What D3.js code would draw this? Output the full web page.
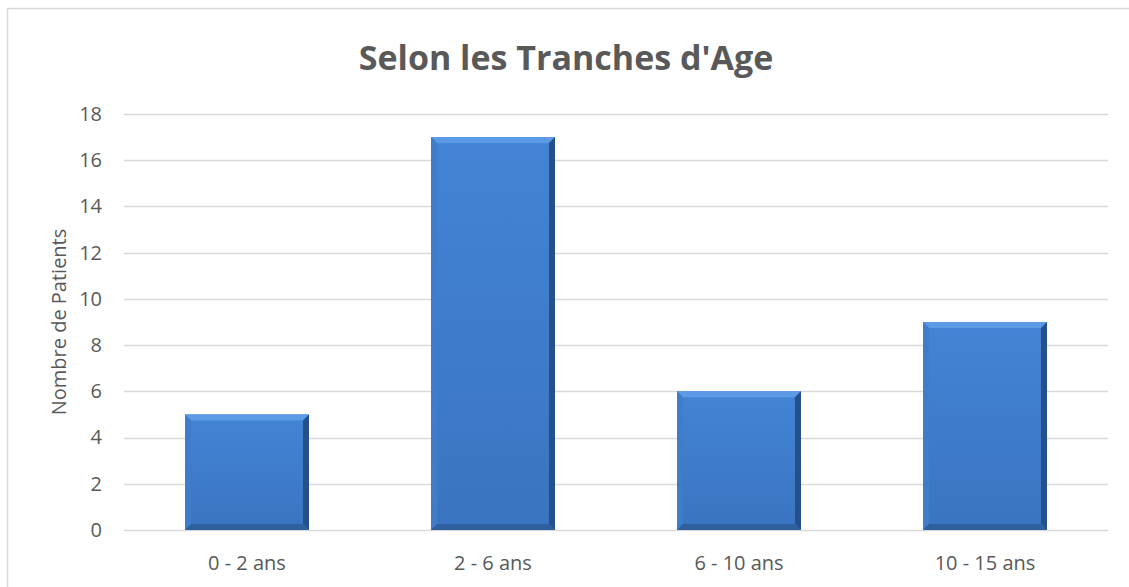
<!DOCTYPE html>
<html>
<head>
<meta charset="utf-8">
<script src="https://cdn.jsdelivr.net/npm/d3@7"></script>
<style>
  body { margin: 0; background: #fff; }
  text { font-family: "Open Sans", "Liberation Sans", sans-serif; fill: #595959; }
</style>
</head>
<body>
<div id="chart"></div>
<script>
// Chart values
var categories = ["0 - 2 ans", "2 - 6 ans", "6 - 10 ans", "10 - 15 ans"];
var patients = [5, 17, 6, 9];
var yTicks = [0, 2, 4, 6, 8, 10, 12, 14, 16, 18];
var chartTitle = "Selon les Tranches d'Age";
var yTitle = "Nombre de Patients";

var svgWidth = 1129, svgHeight = 587;
var chartMargin = { top: 114, right: 21, bottom: 57, left: 124 };
var chartWidth = svgWidth - chartMargin.left - chartMargin.right;
var chartHeight = svgHeight - chartMargin.top - chartMargin.bottom;

var svg = d3.select("#chart")
  .append("svg")
  .attr("width", svgWidth)
  .attr("height", svgHeight);

// outer frame of the chart (runs off right and bottom)
svg.append("rect")
  .attr("x", 7.5).attr("y", 8.5)
  .attr("width", svgWidth + 20).attr("height", svgHeight + 20)
  .attr("fill", "none")
  .attr("stroke", "#d9d9d9")
  .attr("stroke-width", 1.5);

var chartGroup = svg.append("g")
  .attr("transform", `translate(${chartMargin.left}, ${chartMargin.top})`);

var xBandScale = d3.scaleBand()
  .domain(categories)
  .range([0, chartWidth])
  .paddingInner(0.496)
  .paddingOuter(0.248);

var yLinearScale = d3.scaleLinear()
  .domain([0, 18])
  .range([chartHeight, 0]);

// gridlines
chartGroup.selectAll(".grid")
  .data(yTicks)
  .enter()
  .append("line")
  .attr("x1", 0)
  .attr("x2", chartWidth)
  .attr("y1", d => Math.round(yLinearScale(d)) + 0.5)
  .attr("y2", d => Math.round(yLinearScale(d)) + 0.5)
  .attr("stroke", "#d9d9d9")
  .attr("stroke-width", 1.5);

// y axis labels
var leftAxis = d3.axisLeft(yLinearScale).tickValues(yTicks).tickSize(0).tickPadding(22);
var yAxisG = chartGroup.append("g").call(leftAxis);
yAxisG.select(".domain").remove();
yAxisG.selectAll("text")
  .style("font-size", "20px")
  .style("fill", "#595959")
  .style("font-family", "'Open Sans', sans-serif");

// x axis labels
var bottomAxis = d3.axisBottom(xBandScale).tickSize(0).tickPadding(26);
var xAxisG = chartGroup.append("g")
  .attr("transform", `translate(0, ${chartHeight})`)
  .call(bottomAxis);
xAxisG.select(".domain").remove();
xAxisG.selectAll("text")
  .style("font-size", "20px")
  .style("fill", "#595959")
  .style("font-family", "'Open Sans', sans-serif");

// gradient for the bar face
var defs = svg.append("defs");
var grad = defs.append("linearGradient")
  .attr("id", "barFace")
  .attr("x1", 0).attr("y1", 0).attr("x2", 0).attr("y2", 1);
grad.append("stop").attr("offset", "0%").attr("stop-color", "#4384d6");
grad.append("stop").attr("offset", "100%").attr("stop-color", "#3a74c0");

var bev = 6;

var bars = chartGroup.selectAll(".bar")
  .data(patients)
  .enter()
  .append("g")
  .attr("class", "bar");

function corners(d, i) {
  var x0 = xBandScale(categories[i]);
  var x1 = x0 + xBandScale.bandwidth();
  var y0 = yLinearScale(d);
  var y1 = yLinearScale(0);
  return { x0: x0, x1: x1, y0: y0, y1: y1 };
}

// base face
bars.append("rect")
  .attr("x", (d, i) => corners(d, i).x0)
  .attr("y", (d, i) => corners(d, i).y0)
  .attr("width", xBandScale.bandwidth())
  .attr("height", (d, i) => corners(d, i).y1 - corners(d, i).y0)
  .attr("fill", "url(#barFace)");

// bevel: top (light)
bars.append("polygon")
  .attr("points", function(d, i) {
    var c = corners(d, i);
    return [[c.x0, c.y0], [c.x1, c.y0], [c.x1 - bev, c.y0 + bev], [c.x0 + bev, c.y0 + bev]].join(" ");
  })
  .attr("fill", "#5c9ae6");

// bevel: left (slightly lighter)
bars.append("polygon")
  .attr("points", function(d, i) {
    var c = corners(d, i);
    return [[c.x0, c.y0], [c.x0 + bev, c.y0 + bev], [c.x0 + bev, c.y1 - bev], [c.x0, c.y1]].join(" ");
  })
  .attr("fill", "#3f7cc9");

// bevel: right (dark)
bars.append("polygon")
  .attr("points", function(d, i) {
    var c = corners(d, i);
    return [[c.x1, c.y0], [c.x1, c.y1], [c.x1 - bev, c.y1 - bev], [c.x1 - bev, c.y0 + bev]].join(" ");
  })
  .attr("fill", "#24508c");

// bevel: bottom (dark)
bars.append("polygon")
  .attr("points", function(d, i) {
    var c = corners(d, i);
    return [[c.x0, c.y1], [c.x0 + bev, c.y1 - bev], [c.x1 - bev, c.y1 - bev], [c.x1, c.y1]].join(" ");
  })
  .attr("fill", "#2e5f9f");

// chart title
svg.append("text")
  .attr("x", 566)
  .attr("y", 70)
  .attr("text-anchor", "middle")
  .style("font-size", "34px")
  .style("font-weight", "bold")
  .text(chartTitle);

// y axis title
svg.append("text")
  .attr("transform", `translate(66, ${chartMargin.top + chartHeight / 2}) rotate(-90)`)
  .attr("text-anchor", "middle")
  .style("font-size", "20px")
  .text(yTitle);
</script>
</body>
</html>
